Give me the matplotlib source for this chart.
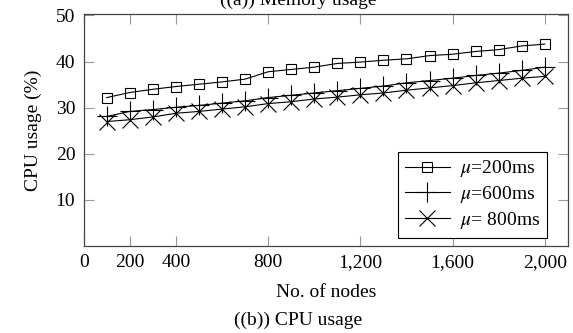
import matplotlib
matplotlib.use("Agg")
import matplotlib.pyplot as plt

plt.rcParams["font.family"] = ["Liberation Serif", "DejaVu Serif"]
plt.rcParams["mathtext.fontset"] = "stix"

# data
nodes = [100, 200, 300, 400, 500, 600, 700, 800, 900, 1000,
         1100, 1200, 1300, 1400, 1500, 1600, 1700, 1800, 1900, 2000]
cpu_200ms = [32.2, 33.3, 34.0, 34.6, 35.1, 35.6, 36.2, 37.8, 38.3, 38.8,
             39.6, 39.9, 40.3, 40.6, 41.3, 41.6, 42.2, 42.6, 43.4, 43.8]
cpu_600ms = [28.1, 29.2, 29.6, 30.1, 30.5, 31.0, 31.5, 32.2, 32.7, 33.2,
             33.7, 34.2, 34.7, 35.4, 35.9, 36.4, 37.0, 37.5, 38.1, 38.8]
cpu_800ms = [27.0, 27.4, 28.0, 28.8, 29.2, 29.7, 30.2, 30.9, 31.3, 31.9,
             32.3, 32.8, 33.2, 33.8, 34.3, 34.8, 35.4, 35.9, 36.4, 36.8]
series_labels = [r"$\mu$=200ms", r"$\mu$=600ms", r"$\mu$= 800ms"]
xticks = [0, 200, 400, 800, 1200, 1600, 2000]
xtick_labels = ["0", "200", "400", "800", "1,200", "1,600", "2,000"]
yticks = [10, 20, 30, 40, 50]

fig = plt.figure(figsize=(5.73, 3.33), dpi=100)
ax = fig.add_axes([0.146, 0.261, 0.845, 0.698])

ax.plot(nodes, cpu_200ms, color="black", lw=0.8, marker="s", ms=6.5,
        mfc="none", mec="black", mew=0.8, label=series_labels[0])
ax.plot(nodes, cpu_600ms, color="black", lw=0.8, marker="+", ms=15,
        mew=0.8, label=series_labels[1])
ax.plot(nodes, cpu_800ms, color="black", lw=0.8, marker="x", ms=11,
        mew=0.8, label=series_labels[2])

ax.set_xlim(0, 2100)
ax.set_ylim(0, 50.4)
ax.set_xticks(xticks)
ax.set_xticklabels(xtick_labels)
ax.set_yticks(yticks)
ax.tick_params(direction="in", length=7, width=0.8, color="#999999",
               top=True, right=True, labelsize=14, pad=6)
for s in ax.spines.values():
    s.set_color("#444444")
    s.set_linewidth(0.9)

ax.set_xlabel("No. of nodes", fontsize=14, labelpad=9)
ax.set_ylabel("CPU usage (%)", fontsize=14, labelpad=10)

leg = ax.legend(loc="lower right", fontsize=14, frameon=True, fancybox=False,
                edgecolor="black", framealpha=1, handlelength=2.3,
                borderpad=0.35, labelspacing=0.25, handletextpad=0.5,
                borderaxespad=0, bbox_to_anchor=(0.956, 0.035))
leg.get_frame().set_linewidth(0.8)

fig.text(0.52, 0.039, "((b)) CPU usage", ha="center", va="center", fontsize=14)
fig.text(0.52, 1.0, "((a)) Memory usage", ha="center", va="center", fontsize=14)

fig.savefig("out.png", dpi=100)
